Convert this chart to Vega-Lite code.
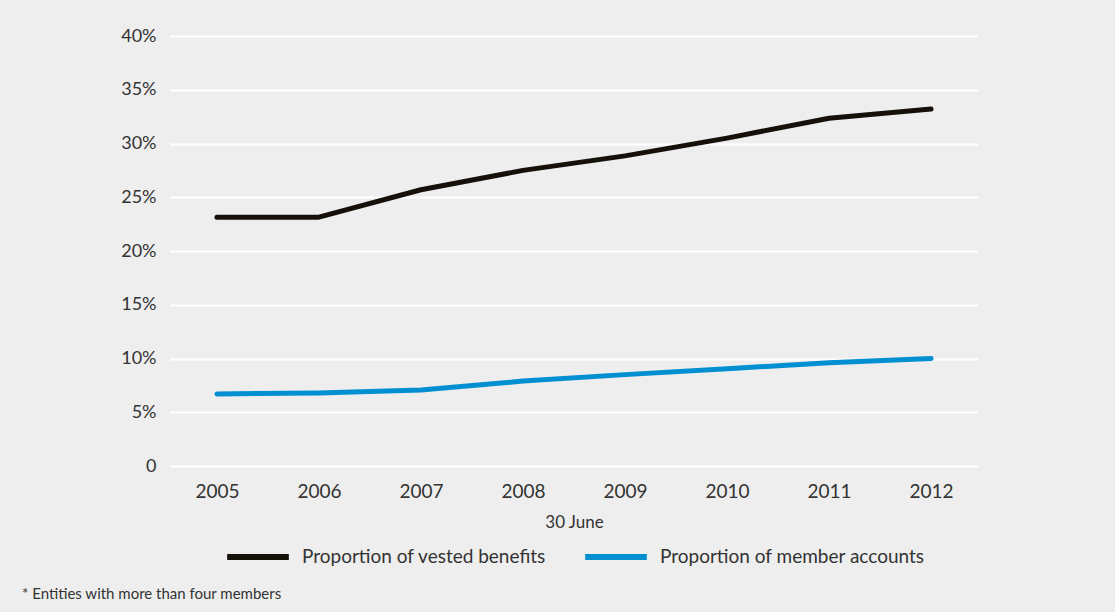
{
  "$schema": "https://vega.github.io/schema/vega-lite/v6.json",
  "width": 808,
  "height": 430,
  "autosize": {"type": "none"},
  "padding": {"left": 170, "top": 36, "right": 137, "bottom": 146},
  "background": "#eeeeee",
  "config": {
    "view": {"stroke": null},
    "font": "Lato",
    "axis": {"labelColor": "#333333", "titleColor": "#333333", "labelFont": "Lato", "titleFont": "Lato"},
    "legend": {"labelColor": "#333333", "labelFont": "Lato", "layout": {"bottom": {"anchor": "middle"}}}
  },
  "title": {
    "text": "* Entities with more than four members",
    "orient": "bottom",
    "anchor": "start",
    "frame": "group",
    "dx": -148,
    "offset": 18,
    "fontSize": 15,
    "fontWeight": "normal",
    "color": "#333333",
    "font": "Lato"
  },
  "data": {
    "values": [
      {"year": "2005", "series": "Proportion of vested benefits", "value": 23.15},
      {"year": "2006", "series": "Proportion of vested benefits", "value": 23.15},
      {"year": "2007", "series": "Proportion of vested benefits", "value": 25.7},
      {"year": "2008", "series": "Proportion of vested benefits", "value": 27.5},
      {"year": "2009", "series": "Proportion of vested benefits", "value": 28.85},
      {"year": "2010", "series": "Proportion of vested benefits", "value": 30.5},
      {"year": "2011", "series": "Proportion of vested benefits", "value": 32.35},
      {"year": "2012", "series": "Proportion of vested benefits", "value": 33.2},
      {"year": "2005", "series": "Proportion of member accounts", "value": 6.7},
      {"year": "2006", "series": "Proportion of member accounts", "value": 6.8},
      {"year": "2007", "series": "Proportion of member accounts", "value": 7.07},
      {"year": "2008", "series": "Proportion of member accounts", "value": 7.9},
      {"year": "2009", "series": "Proportion of member accounts", "value": 8.5},
      {"year": "2010", "series": "Proportion of member accounts", "value": 9.05},
      {"year": "2011", "series": "Proportion of member accounts", "value": 9.6},
      {"year": "2012", "series": "Proportion of member accounts", "value": 10.0}
    ]
  },
  "mark": {"type": "line", "strokeWidth": 5, "strokeCap": "round", "strokeJoin": "round"},
  "encoding": {
    "x": {
      "field": "year",
      "type": "ordinal",
      "scale": {"type": "point", "padding": 0.46},
      "axis": {
        "title": "30 June",
        "labelAngle": 0,
        "labelFontSize": 19,
        "labelPadding": 16,
        "titleFontSize": 17,
        "titleFontWeight": "normal",
        "titlePadding": 13,
        "domain": false,
        "ticks": false,
        "grid": false
      }
    },
    "y": {
      "field": "value",
      "type": "quantitative",
      "scale": {"domain": [0, 40], "nice": false},
      "axis": {
        "title": null,
        "values": [0, 5, 10, 15, 20, 25, 30, 35, 40],
        "labelExpr": "datum.value == 0 ? '0' : datum.value + '%'",
        "labelFontSize": 18,
        "labelPadding": 14,
        "domain": false,
        "ticks": false,
        "grid": true,
        "gridColor": "#ffffff",
        "gridWidth": 2,
        "gridOpacity": 1
      }
    },
    "color": {
      "field": "series",
      "type": "nominal",
      "scale": {
        "domain": ["Proportion of vested benefits", "Proportion of member accounts"],
        "range": ["#15110a", "#0090d2"]
      },
      "legend": {
        "title": null,
        "orient": "bottom",
        "direction": "horizontal",
        "symbolType": "stroke",
        "symbolSize": 3800,
        "symbolStrokeWidth": 6,
        "labelFontSize": 19,
        "labelLimit": 0,
        "labelOffset": 10,
        "columnPadding": 26,
        "offset": -7
      }
    }
  }
}
